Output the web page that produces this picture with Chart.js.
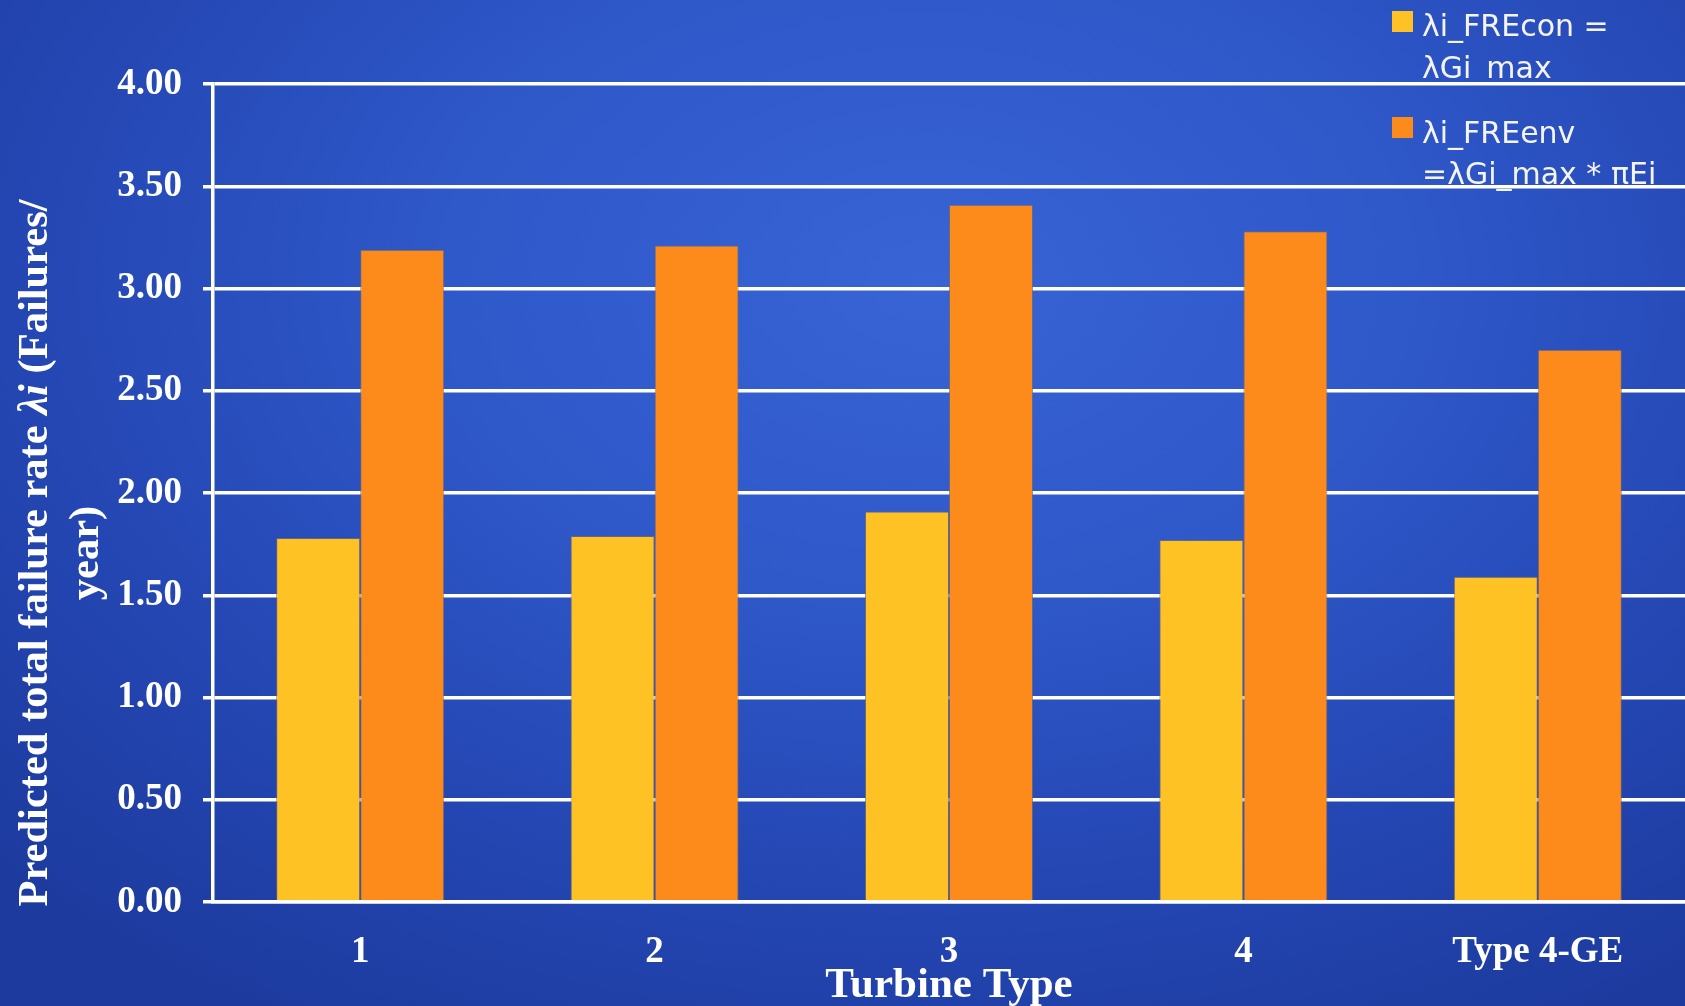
<!DOCTYPE html>
<html>
<head>
<meta charset="utf-8">
<script src="https://cdn.jsdelivr.net/npm/chart.js@4.4.1/dist/chart.umd.min.js"></script>
<style>
html, body { margin: 0; padding: 0; width: 1685px; height: 1006px; overflow: hidden; }
body { background: radial-gradient(ellipse 75% 85% at 55% 28%, #3864d6 0%, #2f58c9 38%, #2548b5 68%, #1d3b9f 100%); }
#wrap { position: absolute; left: 0; top: 0; width: 1685px; height: 1006px; }
</style>
</head>
<body>
<div id="wrap"><canvas id="chart" width="1685" height="1006"></canvas></div>
<script>
// data
const categories = ['1', '2', '3', '4', 'Type 4-GE'];
const freCon = [1.78, 1.79, 1.91, 1.77, 1.59];
const freEnv = [3.19, 3.21, 3.41, 3.28, 2.70];
const legendCon = ['λi_FREcon =', 'λGi_max'];
const legendEnv = ['λi_FREenv', '=λGi_max * πEi'];
const yMin = 0, yMax = 4, yStep = 0.5;

const colCon = '#ffc225';
const colEnv = '#fd8b1c';
const serif = '"Liberation Serif", "Times New Roman", serif';

// legend drawn under the grid, like the original
const legendPlugin = {
    id: 'sideLegend',
    beforeDraw(chart) {
        const ctx = chart.ctx;
        const entries = [
            { color: colCon, lines: legendCon, top: 11, base: [36, 78] },
            { color: colEnv, lines: legendEnv, top: 117, base: [143, 184] }
        ];
        ctx.save();
        ctx.font = '30px "DejaVu Sans", sans-serif';
        ctx.textAlign = 'left';
        ctx.textBaseline = 'alphabetic';
        entries.forEach(e => {
            ctx.fillStyle = e.color;
            ctx.fillRect(1392, e.top, 21, 21);
            ctx.fillStyle = '#f4f4f4';
            e.lines.forEach((t, i) => ctx.fillText(t, 1422, e.base[i]));
        });
        ctx.restore();
    }
};

// axis titles (y title has an italic part)
const titlePlugin = {
    id: 'axisTitles',
    afterDraw(chart) {
        const ctx = chart.ctx;
        ctx.save();
        ctx.fillStyle = '#ffffff';
        ctx.textBaseline = 'alphabetic';

        ctx.font = 'bold 43px ' + serif;
        ctx.textAlign = 'center';
        const ca = chart.chartArea;
        ctx.fillText('Turbine Type', (ca.left + ca.right) / 2, 997);

        const parts = [
            { t: 'Predicted total failure rate ', f: 'bold 42.5px ' + serif },
            { t: 'λi', f: 'italic bold 42.5px ' + serif },
            { t: ' (Failures/', f: 'bold 42.5px ' + serif }
        ];
        let total = 0;
        parts.forEach(p => { ctx.font = p.f; p.w = ctx.measureText(p.t).width; total += p.w; });
        ctx.translate(47, 553);
        ctx.rotate(-Math.PI / 2);
        ctx.textAlign = 'left';
        let x = -total / 2;
        parts.forEach(p => { ctx.font = p.f; ctx.fillText(p.t, x, 0); x += p.w; });
        ctx.font = 'bold 42.5px ' + serif;
        ctx.textAlign = 'center';
        ctx.fillText('year)', 0, 51);
        ctx.restore();
    }
};

const ctx = document.getElementById('chart').getContext('2d');
new Chart(ctx, {
    type: 'bar',
    data: {
        labels: categories,
        datasets: [
            { label: legendCon.join(' '), data: freCon, backgroundColor: colCon, borderColor: 'rgba(120,105,110,0.75)', borderWidth: 1 },
            { label: legendEnv.join(' '), data: freEnv, backgroundColor: colEnv, borderColor: 'rgba(120,105,110,0.75)', borderWidth: 1 }
        ]
    },
    options: {
        responsive: false,
        animation: false,
        devicePixelRatio: 1,
        layout: { padding: { top: 84, left: 0, right: 0, bottom: 0 } },
        datasets: { bar: { categoryPercentage: 0.571, barPercentage: 1.0 } },
        plugins: { legend: { display: false }, tooltip: { enabled: false } },
        scales: {
            x: {
                offset: true,
                grid: { display: false, drawTicks: false },
                border: { display: true, color: '#ffffff', width: 3.5 },
                ticks: { color: '#ffffff', padding: 28, maxRotation: 0, font: { family: serif, size: 37, weight: 'bold' } },
                afterFit(scale) { scale.height = 104; }
            },
            y: {
                min: yMin,
                max: yMax,
                grid: { color: '#ffffff', lineWidth: 3.5, tickLength: 10 },
                border: { display: true, color: '#ffffff', width: 3.5 },
                ticks: {
                    stepSize: yStep,
                    color: '#ffffff',
                    padding: 21,
                    font: { family: serif, size: 37, weight: 'bold' },
                    callback: v => Number(v).toFixed(2)
                },
                afterFit(scale) { scale.width = 213; }
            }
        }
    },
    plugins: [legendPlugin, titlePlugin]
});
</script>
</body>
</html>
